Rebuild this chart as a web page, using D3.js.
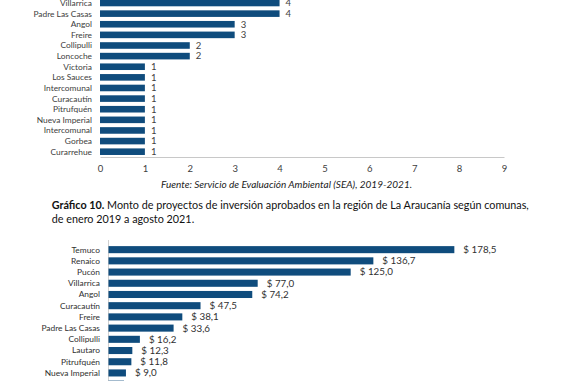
<!DOCTYPE html>
<html><head><meta charset="utf-8">
<script src="https://cdn.jsdelivr.net/npm/d3@7"></script>
<style>body{margin:0;background:#fff}svg{display:block}text{font-family:Lato,"Open Sans",sans-serif}</style>
</head><body>
<svg id="c" width="576" height="381"></svg>
<script>
// Chart 9 (top, partially visible): number of projects per commune
const cats1 = ["Villarrica","Padre Las Casas","Angol","Freire","Collipulli","Loncoche","Victoria","Los Sauces","Intercomunal","Curacautín","Pitrufquén","Nueva Imperial","Intercomunal","Gorbea","Curarrehue"];
const vals1 = [4,4,3,3,2,2,1,1,1,1,1,1,1,1,1];
const ticks1 = [0,1,2,3,4,5,6,7,8,9];
// Chart 10 (bottom, partially visible): amount approved per commune
const cats2 = ["Temuco","Renaico","Pucón","Villarrica","Angol","Curacautín","Freire","Padre Las Casas","Collipulli","Lautaro","Pitrufquén","Nueva Imperial",""];
const vals2 = [178.5,136.7,125.0,77.0,74.2,47.5,38.1,33.6,16.2,12.3,11.8,9.0,8.0];
const sourceText = "Fuente: Servicio de Evaluación Ambiental (SEA), 2019-2021.";
const titleBold = "Gráfico 10.";
const titleRest = " Monto de proyectos de inversión aprobados en la región de La Araucanía según comunas,";
const titleLine2 = "de enero 2019 a agosto 2021.";

const svg = d3.select("#c");
const barColor = "#0f4c7d";
const fmt = v => "$ " + d3.format(".1f")(v).replace(".", ",");

// ---- top chart
const x1 = d3.scaleLinear().domain([0, 9]).range([100, 504]);
const y1 = d3.scaleBand().domain(d3.range(cats1.length)).range([-2.3, 157]).paddingInner(0.38).paddingOuter(0.19);
const g1 = svg.append("g");
g1.selectAll("rect").data(vals1).join("rect")
  .attr("x", x1(0)).attr("y", (d,i)=>y1(i)).attr("width", d=>x1(d)-x1(0)).attr("height", y1.bandwidth()).attr("fill", barColor);
g1.selectAll("text.v").data(vals1).join("text").attr("class","v")
  .attr("x", d=>x1(d)+6).attr("y", (d,i)=>y1(i)+y1.bandwidth()/2).attr("dy","0.35em")
  .attr("font-size",9.5).attr("fill","#404040").text(d=>d);
g1.selectAll("text.c").data(cats1).join("text").attr("class","c")
  .attr("x", 92).attr("y", (d,i)=>y1(i)+y1.bandwidth()/2).attr("dy","0.35em").attr("text-anchor","end")
  .attr("font-size",8.4).attr("fill","#404040").text(d=>d);
const ax1 = g1.append("g").attr("transform","translate(0,157)")
  .call(d3.axisBottom(x1).tickValues(ticks1).tickSize(0).tickPadding(8));
ax1.select(".domain").attr("stroke","#c8c8c8").attr("stroke-width",1);
ax1.selectAll("text").attr("font-size",9.5).attr("fill","#404040").attr("font-family","Lato");

// ---- captions
svg.append("text").attr("x",286.5).attr("y",188).attr("text-anchor","middle")
  .attr("font-size",10).attr("font-style","italic").attr("fill","#222").text(sourceText);
const t = svg.append("text").attr("x",51.7).attr("y",209).attr("font-size",10.8).attr("fill","#111");
t.append("tspan").attr("font-weight","bold").text(titleBold);
t.append("tspan").text(titleRest);
svg.append("text").attr("x",51.7).attr("y",223).attr("font-size",10.8).attr("fill","#111").text(titleLine2);

// ---- bottom chart
const x2 = d3.scaleLinear().domain([0, 200]).range([108.5, 496]);
const y2 = d3.scaleBand().domain(d3.range(cats2.length)).range([244.1, 244.1 + 11.2*cats2.length]).paddingInner(0.37).paddingOuter(0.18);
const g2 = svg.append("g");
g2.append("line").attr("x1",108.5).attr("x2",108.5).attr("y1",240).attr("y2",381).attr("stroke","#d0d0d0");
g2.selectAll("rect").data(vals2).join("rect")
  .attr("x", x2(0)).attr("y", (d,i)=>y2(i)).attr("width", d=>x2(d)-x2(0)).attr("height", y2.bandwidth()).attr("fill", barColor);
const shown2 = vals2.slice(0, 12);
g2.selectAll("text.v").data(shown2).join("text").attr("class","v")
  .attr("x", d=>x2(d)+9).attr("y", (d,i)=>y2(i)+y2.bandwidth()/2).attr("dy","0.35em")
  .attr("font-size",9.8).attr("fill","#303030").text(d=>fmt(d));
g2.selectAll("text.c").data(cats2.slice(0, 12)).join("text").attr("class","c")
  .attr("x", 100).attr("y", (d,i)=>y2(i)+y2.bandwidth()/2).attr("dy","0.35em").attr("text-anchor","end")
  .attr("font-size",8.4).attr("fill","#303030").text(d=>d);
</script>
</body></html>
